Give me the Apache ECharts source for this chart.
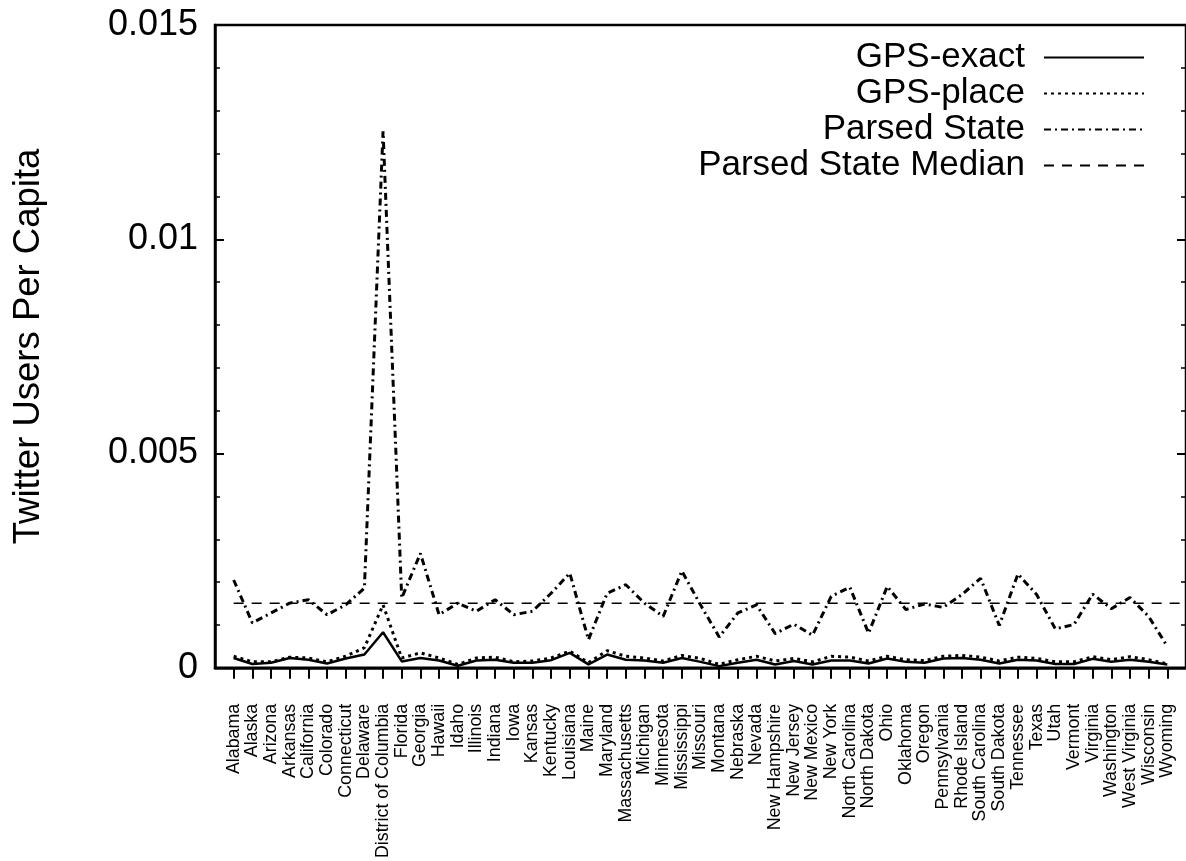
<!DOCTYPE html>
<html>
<head>
<meta charset="utf-8">
<script src="https://cdn.jsdelivr.net/npm/echarts@6/dist/echarts.min.js"></script>
<style>html,body{margin:0;padding:0;background:#fff}#c{width:1186px;height:861px}</style>
</head>
<body>
<div id="c"></div>
<script>
const states = ["Alabama","Alaska","Arizona","Arkansas","California","Colorado","Connecticut","Delaware","District of Columbia","Florida","Georgia","Hawaii","Idaho","Illinois","Indiana","Iowa","Kansas","Kentucky","Louisiana","Maine","Maryland","Massachusetts","Michigan","Minnesota","Mississippi","Missouri","Montana","Nebraska","Nevada","New Hampshire","New Jersey","New Mexico","New York","North Carolina","North Dakota","Ohio","Oklahoma","Oregon","Pennsylvania","Rhode Island","South Carolina","South Dakota","Tennessee","Texas","Utah","Vermont","Virginia","Washington","West Virginia","Wisconsin","Wyoming"];

const gpsExact = [0.00023,0.00009,0.00012,0.00023,0.00019,0.00010,0.00022,0.00031,0.00083,0.00015,0.00023,0.00017,0.00005,0.00017,0.00019,0.00012,0.00012,0.00018,0.00035,0.00008,0.00031,0.00019,0.00017,0.00012,0.00023,0.00014,0.00004,0.00012,0.00019,0.00008,0.00016,0.00008,0.00017,0.00017,0.00010,0.00022,0.00014,0.00012,0.00022,0.00023,0.00019,0.00010,0.00019,0.00017,0.00009,0.00009,0.00021,0.00014,0.00019,0.00014,0.00008];

const gpsPlace = [0.00027,0.00014,0.00014,0.00025,0.00023,0.00014,0.00027,0.00047,0.00147,0.00023,0.00035,0.00023,0.00008,0.00023,0.00025,0.00014,0.00016,0.00023,0.00039,0.00012,0.00040,0.00027,0.00023,0.00016,0.00029,0.00022,0.00008,0.00019,0.00027,0.00016,0.00022,0.00014,0.00027,0.00025,0.00016,0.00027,0.00019,0.00017,0.00027,0.00029,0.00025,0.00016,0.00025,0.00022,0.00014,0.00014,0.00026,0.00019,0.00026,0.00019,0.00009];

const parsedState = [0.00205,0.00105,0.00128,0.00151,0.00159,0.00124,0.00147,0.00186,0.01252,0.00163,0.00267,0.00124,0.00151,0.00132,0.00159,0.00124,0.00132,0.00174,0.00221,0.00066,0.00174,0.00194,0.00151,0.00120,0.00226,0.00147,0.00072,0.00128,0.00147,0.00080,0.00102,0.00076,0.00167,0.00188,0.00081,0.00190,0.00136,0.00149,0.00141,0.00171,0.00209,0.00099,0.00219,0.00171,0.00091,0.00101,0.00172,0.00138,0.00164,0.00120,0.00050];

const parsedStateMedian = 0.00151;
const medianSpan = [0, 51];

const yTicks = [0, 0.005, 0.01, 0.015];

const FONT = "Liberation Sans";
const chart = echarts.init(document.getElementById('c'), null, {renderer: 'canvas'});
const idx = states.map((_, i) => i);
const pairs = arr => arr.map((v, i) => [i, v]);

const yAxisCommon = {
  type: 'value', min: yTicks[0], max: yTicks[yTicks.length - 1], interval: 0.005,
  splitLine: {show: false},
  axisLine: {show: true, onZero: false, lineStyle: {color: '#000', width: 2.5}},
  axisTick: {show: true, inside: true, length: 9, lineStyle: {color: '#000', width: 2}},
  minorTick: {show: true, splitNumber: 5, length: 5, lineStyle: {color: '#000', width: 1.5}}
};

chart.setOption({
  animation: false,
  backgroundColor: '#fff',
  textStyle: {fontFamily: FONT},
  grid: {left: 215, top: 25, width: 972, height: 645, show: true, borderColor: '#000', borderWidth: 2.5, containLabel: false},
  legend: {
    orient: 'vertical', align: 'right', right: 36, top: 35,
    itemWidth: 100, itemHeight: 14, itemGap: 1,
    itemStyle: {color: 'rgba(0,0,0,0)', borderWidth: 0, opacity: 0},
    textStyle: {fontSize: 35, color: '#000', fontFamily: FONT, padding: [0, 14, 0, 0]},
    data: ['GPS-exact', 'GPS-place', 'Parsed State', 'Parsed State Median']
  },
  xAxis: {
    type: 'value', min: -1, max: 51, interval: 1,
    splitLine: {show: false},
    axisLine: {show: true, onZero: false, lineStyle: {color: '#000', width: 2.5}},
    axisTick: {show: true, inside: false, length: 11, lineStyle: {color: '#000', width: 2}, customValues: idx},
    axisLabel: {
      customValues: idx, rotate: 90, margin: 36, fontSize: 17.8, color: '#000', fontFamily: FONT,
      formatter: v => states[Math.round(v)] || ''
    }
  },
  yAxis: [Object.assign({}, yAxisCommon, {
    position: 'left',
    name: 'Twitter Users Per Capita', nameLocation: 'middle', nameGap: 168, nameRotate: 90,
    nameTextStyle: {fontSize: 36.5, color: '#000', fontFamily: FONT},
    axisLabel: {fontSize: 36, color: '#000', margin: 17, fontFamily: FONT}
  }), Object.assign({}, yAxisCommon, {
    position: 'right',
    axisLabel: {show: false}
  })],
  series: [
    {name: 'GPS-exact', type: 'line', symbol: 'none', data: pairs(gpsExact),
     lineStyle: {color: '#000', width: 2.5, type: 'solid'}, itemStyle: {color: '#000'}},
    {name: 'GPS-place', type: 'line', symbol: 'none', data: pairs(gpsPlace),
     lineStyle: {color: '#000', width: 3, type: [3, 4]}, itemStyle: {color: '#000'}},
    {name: 'Parsed State', type: 'line', symbol: 'none', data: pairs(parsedState),
     lineStyle: {color: '#000', width: 3, type: [7, 4, 2, 4]}, itemStyle: {color: '#000'}},
    {name: 'Parsed State Median', type: 'line', symbol: 'none',
     data: medianSpan.map(x => [x, parsedStateMedian]),
     lineStyle: {color: '#000', width: 1.5, type: [10, 8]}, itemStyle: {color: '#000'}}
  ]
});
</script>
</body>
</html>
